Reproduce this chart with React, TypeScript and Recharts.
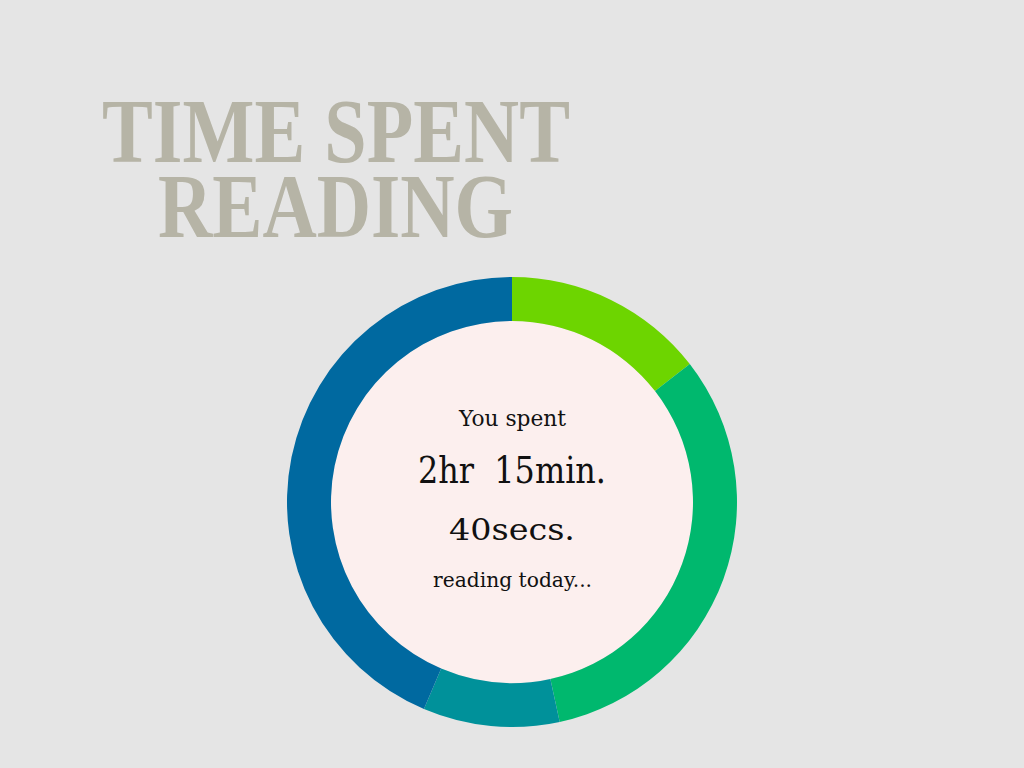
import { Cell, Pie, PieChart } from 'recharts'

// share of reading time, clockwise from 12 o'clock
const segmentNames = ['Fiction', 'Non-fiction', 'Poetry', 'Articles']
const segmentValues = [14.5, 32.1, 9.8, 43.6]
const segmentColors = ['#6dd500', '#00b86e', '#00919a', '#0069a0']

const centerFill = ['#fcefee']

const titleLines = ['TIME SPENT', 'READING']
const centerLines = ['You spent', '2hr  15min.', '40secs.', 'reading today...']

const WIDTH = 1024
const HEIGHT = 768
const CX = 512
const CY = 502
const INNER_R = 181
const OUTER_R = 225

const ringData = segmentNames.map((name, i) => ({ name, value: segmentValues[i] }))
const holeData = centerFill.map((fill) => ({ name: 'center', value: 1, fill }))

const titleFont = '"Liberation Serif", "DejaVu Serif", serif'
const bodyFont = '"DejaVu Serif", "Liberation Serif", serif'

export default function App() {
  return (
    <div
      style={{
        position: 'fixed',
        top: 0,
        left: 0,
        width: WIDTH,
        height: HEIGHT,
        background: '#e5e5e5',
      }}
    >
      <PieChart width={WIDTH} height={HEIGHT} margin={{ top: 0, right: 0, bottom: 0, left: 0 }}>
        <Pie
          data={holeData}
          dataKey="value"
          cx={CX}
          cy={CY}
          innerRadius={0}
          outerRadius={INNER_R}
          stroke="none"
          isAnimationActive={false}
        >
          {holeData.map((d, i) => (
            <Cell key={i} fill={d.fill} />
          ))}
        </Pie>
        <Pie
          data={ringData}
          dataKey="value"
          nameKey="name"
          cx={CX}
          cy={CY}
          startAngle={90}
          endAngle={-270}
          innerRadius={INNER_R}
          outerRadius={OUTER_R}
          stroke="none"
          paddingAngle={0}
          isAnimationActive={false}
        >
          {ringData.map((_, i) => (
            <Cell key={i} fill={segmentColors[i]} />
          ))}
        </Pie>
      </PieChart>
      <svg
        width={WIDTH}
        height={HEIGHT}
        style={{ position: 'absolute', top: 0, left: 0, pointerEvents: 'none' }}
      >
        {/* title as one text block, two lines set tight like the reference */}
        <text fill="#b6b4a6" fontFamily={titleFont} fontWeight="bold" fontSize={92}>
          <tspan x={102} y={162} textLength={468} lengthAdjust="spacingAndGlyphs">
            {titleLines[0]}
          </tspan>
          <tspan x={158} y={237} textLength={355} lengthAdjust="spacingAndGlyphs">
            {titleLines[1]}
          </tspan>
        </text>
        <g fill="#111" fontFamily={bodyFont}>
          <text x={459} y={426} fontSize={22} textLength={107} lengthAdjust="spacingAndGlyphs">
            {centerLines[0]}
          </text>
          <text
            x={418}
            y={483}
            fontSize={38}
            textLength={188}
            lengthAdjust="spacingAndGlyphs"
            xmlSpace="preserve"
            style={{ whiteSpace: 'pre' }}
          >
            {centerLines[1]}
          </text>
          <text x={449} y={540} fontSize={30} textLength={126} lengthAdjust="spacingAndGlyphs">
            {centerLines[2]}
          </text>
          <text x={433} y={587} fontSize={21} textLength={159} lengthAdjust="spacingAndGlyphs">
            {centerLines[3]}
          </text>
        </g>
      </svg>
    </div>
  )
}
